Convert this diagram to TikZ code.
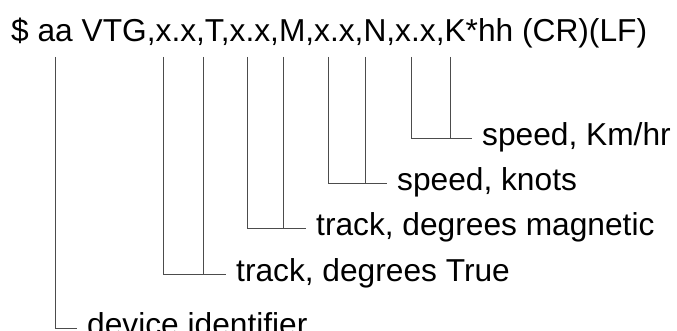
\documentclass[tikz,border=0pt]{standalone}
\usepackage{fontspec}
\setmainfont{Liberation Sans}
\usepackage{tikz}
\usetikzlibrary{calc}
\usetikzlibrary{positioning}

\tikzset{
    sentence/.style={anchor=base west, inner sep=0pt, font=\fontsize{31.7}{36}\selectfont},
    field/.style={anchor=west, inner xsep=10pt, inner ysep=0pt, text height=23.8pt, text depth=7.9pt, font=\fontsize{31.7}{36}\selectfont},
    lead/.style={color=black!70, line width=0.8pt}
}

\begin{document}
\begin{tikzpicture}[x=1pt, y=-1pt]
                \useasboundingbox (0,0) rectangle (677,331);
                % the sentence
                \node[sentence] (vtg) at (11,42) {\$ aa VTG,x.x,T,x.x,M,x.x,N,x.x,K*hh (CR)(LF)};
                % tops of the leads
                \coordinate (aa) at (55,57);
                \coordinate (t1) at (163,57);
                \coordinate (t2) at (203,57);
                \coordinate (m1) at (247,57);
                \coordinate (m2) at (283,57);
                \coordinate (n1) at (328,57);
                \coordinate (n2) at (365,57);
                \coordinate (k1) at (411,57);
                \coordinate (k2) at (450,57);
                % the fields
                \node[field] (kmh) at (472,138) {speed, Km/hr};
                \node[field] (knots) at (387,183) {speed, knots};
                \node[field] (magn) at (306,228) {track, degrees magnetic};
                \node[field] (true) at (226,274) {track, degrees True};
                \node[field] (device) at (77,328) {device identifier};
                % the leads
                \draw[lead] (k1) |- (kmh.west);
                \draw[lead] (k2) -- (k2 |- kmh.west);
                \draw[lead] (n1) |- (knots.west);
                \draw[lead] (n2) -- (n2 |- knots.west);
                \draw[lead] (m1) |- (magn.west);
                \draw[lead] (m2) -- (m2 |- magn.west);
                \draw[lead] (t1) |- (true.west);
                \draw[lead] (t2) -- (t2 |- true.west);
                \draw[lead] (aa) |- (device.west);
\end{tikzpicture}
\end{document}
